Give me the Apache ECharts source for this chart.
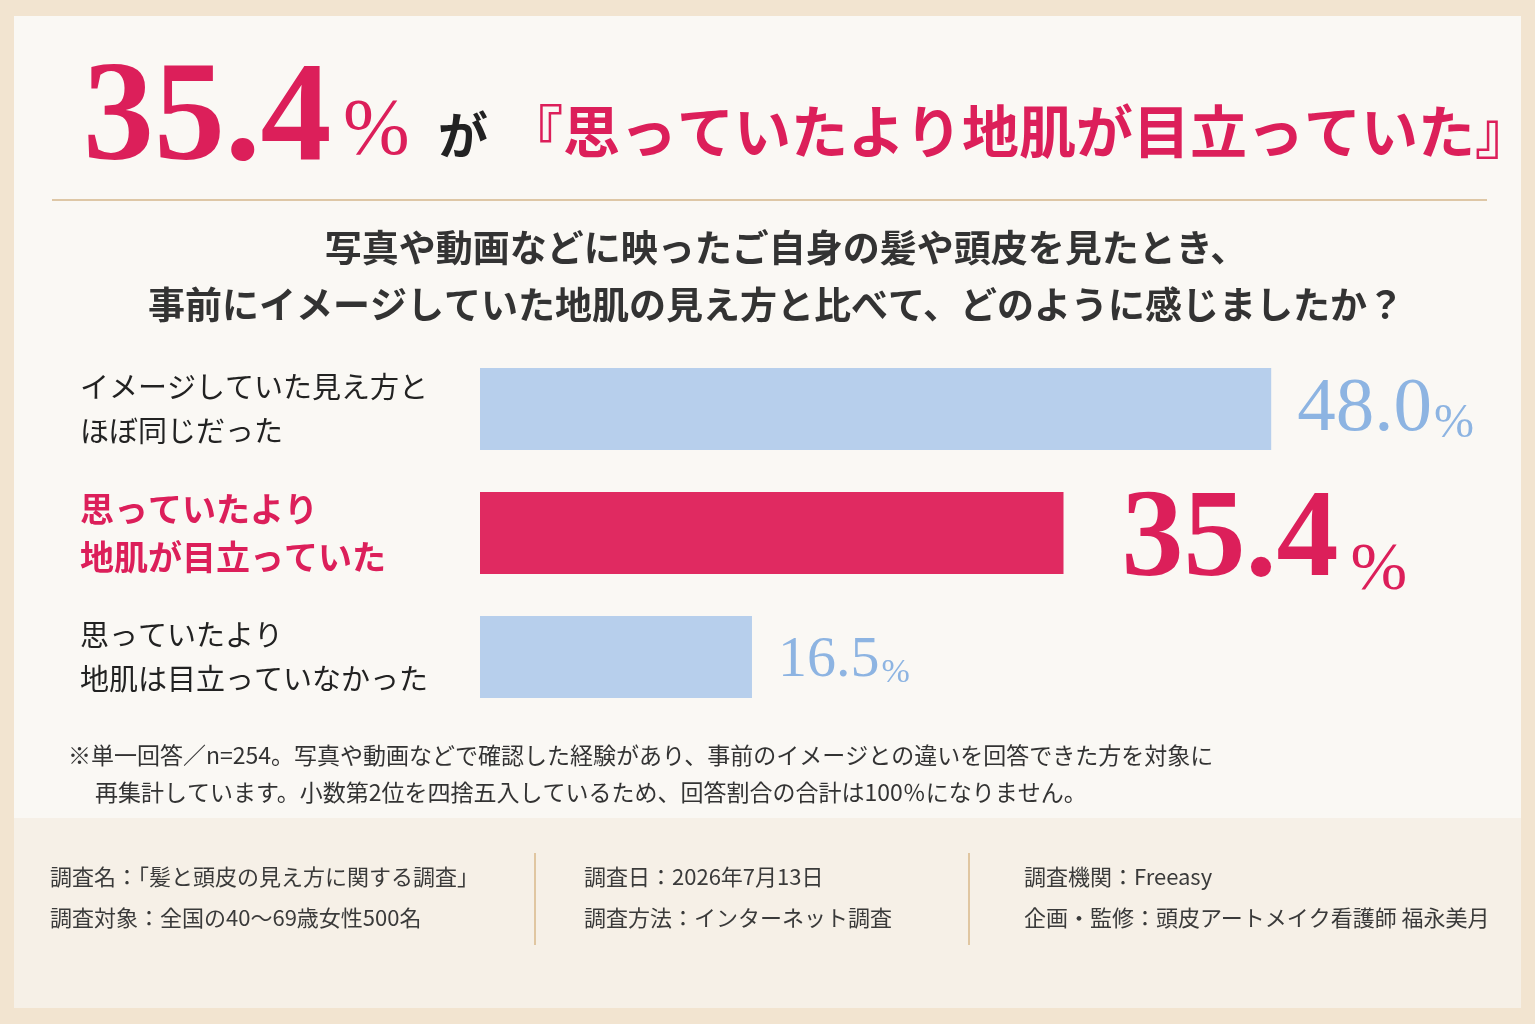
<!DOCTYPE html>
<html>
<head>
<meta charset="utf-8">
<script src="https://cdn.jsdelivr.net/npm/echarts@6.0.0/dist/echarts.min.js"></script>
<style>
html,body{margin:0;padding:0;background:#F2E4D0;}
#chart{width:1535px;height:1024px;}
</style>
</head>
<body>
<div id="chart"></div>
<script>
// ---- data ----
const categories = [
  'イメージしていた見え方と\nほぼ同じだった',
  '思っていたより\n地肌が目立っていた',
  '思っていたより\n地肌は目立っていなかった'
];
const values = [48.0, 35.4, 16.5];
const highlightIndex = 1;
const titleNumber = '35.4';
const titleQuote = '『思っていたより地肌が目立っていた』';
const questionLines = [
  '写真や動画などに映ったご自身の髪や頭皮を見たとき、',
  '事前にイメージしていた地肌の見え方と比べて、どのように感じましたか？'
];
const noteLines = [
  '※単一回答／n=254。写真や動画などで確認した経験があり、事前のイメージとの違いを回答できた方を対象に',
  '再集計しています。小数第2位を四捨五入しているため、回答割合の合計は100％になりません。'
];
const footerCols = [
  ['調査名：「髪と頭皮の見え方に関する調査」', '調査対象：全国の40～69歳女性500名'],
  ['調査日：2026年7月13日', '調査方法：インターネット調査'],
  ['調査機関：Freeasy', '企画・監修：頭皮アートメイク看護師 福永美月']
];

// ---- styles ----
const PINK = '#DC1F5A';
const BAR_PINK = '#E02A61';
const BLUE = '#B7CFEC';
const BLUE_TXT = '#8DB4E2';
const JP = '"Noto Sans CJK JP", "Noto Sans", sans-serif';
const SERIF = '"Liberation Serif", "DejaVu Serif", serif';

const chart = echarts.init(document.getElementById('chart'));

const yData = categories.map((c, i) => i === highlightIndex
  ? { value: c, textStyle: { color: PINK, fontSize: 34, fontWeight: 'bold', lineHeight: 48, align: 'left' } }
  : { value: c, textStyle: { align: 'left' } });

const barData = values.map((v, i) => {
  const hi = i === highlightIndex;
  const small = !hi && v < 30;
  const nSize = hi ? 124 : (small ? 58 : 77);
  const pSize = hi ? 68 : (small ? 34 : 48);
  return {
    value: v,
    itemStyle: { color: hi ? BAR_PINK : BLUE },
    label: {
      show: true,
      position: 'right',
      distance: hi ? 58 : 26,
      offset: [0, hi ? 10 : (small ? 4 : 1)],
      formatter: '{n|' + v.toFixed(1) + '}{p|%}',
      rich: {
        n: { fontFamily: SERIF, fontSize: nSize, fontWeight: hi ? 'bold' : 'normal', color: hi ? PINK : BLUE_TXT, verticalAlign: 'bottom', lineHeight: nSize },
        p: { fontFamily: SERIF, fontSize: pSize, fontWeight: 'normal', color: hi ? PINK : BLUE_TXT, verticalAlign: 'bottom', lineHeight: nSize, padding: [0, 0, 0, hi ? 12 : 2] }
      }
    }
  };
});

const graphics = [
  { type: 'rect', z: -10, shape: { x: 14, y: 16, width: 1507, height: 992 }, style: { fill: '#FAF8F4' } },
  { type: 'rect', z: -9, shape: { x: 14, y: 818, width: 1507, height: 190 }, style: { fill: '#F6F0E7' } },
  { type: 'line', shape: { x1: 52, y1: 200, x2: 1487, y2: 200 }, style: { stroke: '#DEC7A6', lineWidth: 2 } },
  { type: 'text', x: 83, y: 122, style: { text: titleNumber, font: 'bold 142px ' + SERIF, fill: PINK, textVerticalAlign: 'middle' } },
  { type: 'text', x: 343, y: 133, style: { text: '%', font: '80px ' + SERIF, fill: PINK, textVerticalAlign: 'middle' } },
  { type: 'text', x: 438, y: 135, style: { text: 'が', font: 'bold 50px ' + JP, fill: '#222', textVerticalAlign: 'middle' } },
  { type: 'text', x: 506, y: 131, style: { text: titleQuote, font: 'bold 57px ' + JP, fill: PINK, textVerticalAlign: 'middle' } },
  { type: 'text', x: 786, y: 248, style: { text: questionLines[0], font: 'bold 37px ' + JP, fill: '#333', textAlign: 'center', textVerticalAlign: 'middle' } },
  { type: 'text', x: 776, y: 305, style: { text: questionLines[1], font: 'bold 37px ' + JP, fill: '#333', textAlign: 'center', textVerticalAlign: 'middle' } },
  { type: 'text', x: 68, y: 755, style: { text: noteLines[0], font: '23px ' + JP, fill: '#333', textVerticalAlign: 'middle' } },
  { type: 'text', x: 95, y: 792, style: { text: noteLines[1], font: '23px ' + JP, fill: '#333', textVerticalAlign: 'middle' } },
  { type: 'line', shape: { x1: 535, y1: 853, x2: 535, y2: 945 }, style: { stroke: '#D9B88A', lineWidth: 1.5 } },
  { type: 'line', shape: { x1: 969, y1: 853, x2: 969, y2: 945 }, style: { stroke: '#D9B88A', lineWidth: 1.5 } }
];
const footerX = [50, 584, 1024];
footerCols.forEach((col, ci) => {
  col.forEach((t, li) => {
    graphics.push({ type: 'text', x: footerX[ci], y: 877 + li * 41, style: { text: t, font: '22px ' + JP, fill: '#3a3a3a', textVerticalAlign: 'middle' } });
  });
});

chart.setOption({
  backgroundColor: '#F2E4D0',
  animation: false,
  grid: { left: 480, top: 347, width: 989, height: 372, containLabel: false, outerBoundsMode: 'none' },
  xAxis: { type: 'value', min: 0, max: 60, show: false },
  yAxis: {
    type: 'category',
    inverse: true,
    data: yData,
    axisLine: { show: false },
    axisTick: { show: false },
    splitLine: { show: false },
    axisLabel: {
      align: 'left',
      margin: 400,
      fontFamily: JP,
      fontSize: 29,
      lineHeight: 44,
      color: '#222'
    }
  },
  series: [{
    type: 'bar',
    data: barData,
    barWidth: 82
  }],
  graphic: graphics
});
</script>
</body>
</html>
